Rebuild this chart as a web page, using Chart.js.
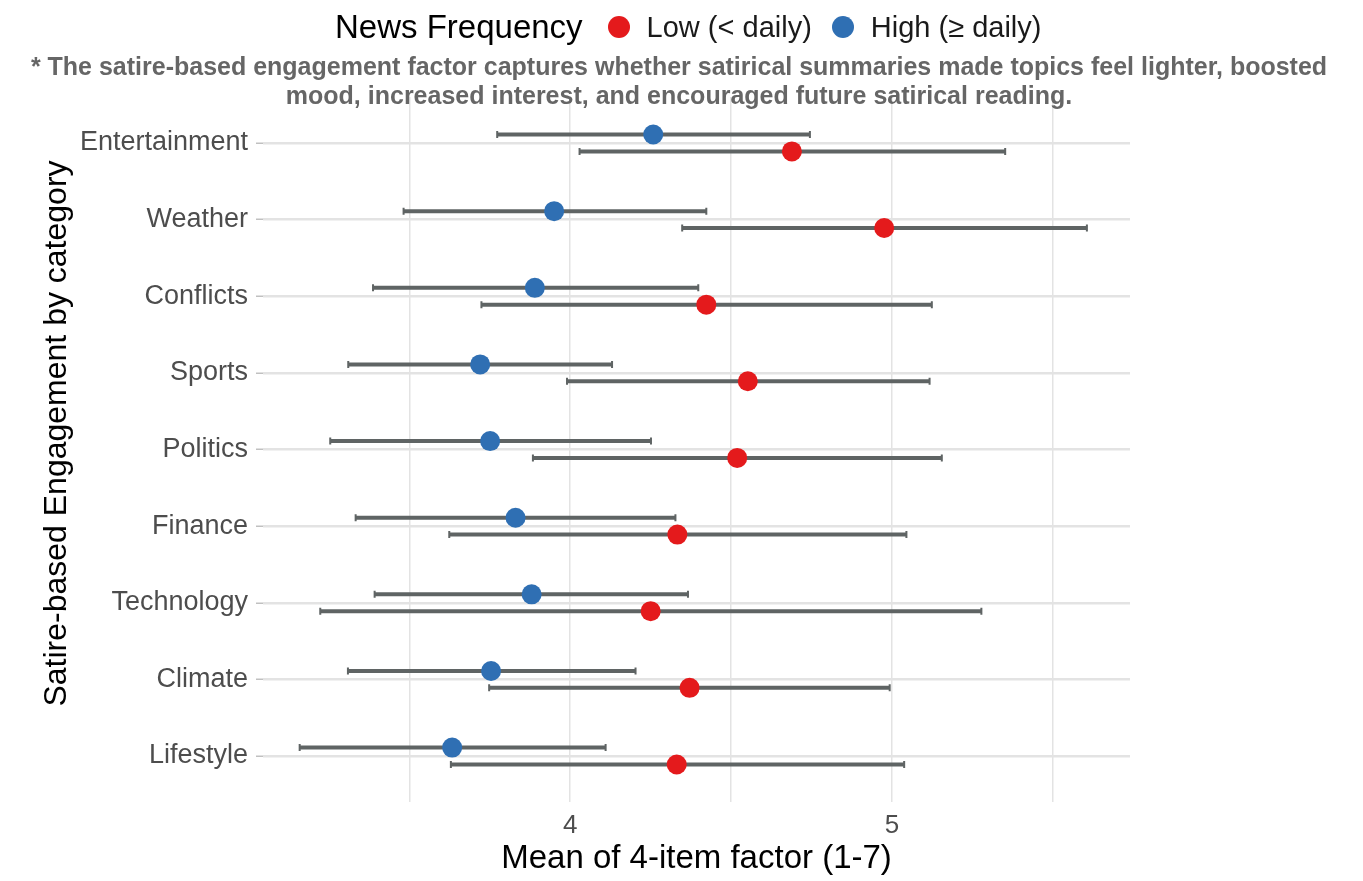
<!DOCTYPE html>
<html>
<head>
<meta charset="utf-8">
<script src="https://cdn.jsdelivr.net/npm/chart.js@4.4.1/dist/chart.umd.min.js"></script>
<style>
  body { margin: 0; background: #fff; font-family: "Liberation Sans", Arial, sans-serif; }
  #wrap { position: relative; width: 1363px; height: 881px; }
  #chart { position: absolute; left: 0; top: 0; }
  #legend { position: absolute; top: 7px; left: 335px; height: 40px; display: flex; align-items: center; white-space: nowrap; }
  #legend .ttl { font-size: 33px; color: #000; margin-right: 25px; }
  #legend .dot { width: 22px; height: 22px; border-radius: 50%; display: inline-block; margin-right: 17px; }
  #legend .lab { font-size: 29px; color: #1a1a1a; margin-right: 20px; }
  #note { position: absolute; top: 52px; left: 0; width: 1358px; text-align: center; font-weight: bold; font-size: 25px; line-height: 29px; color: #666; white-space: nowrap; }
</style>
</head>
<body>
<div id="wrap">
  <canvas id="chart" width="1363" height="881"></canvas>
  <div id="legend">
    <span class="ttl">News Frequency</span>
    <span class="dot" style="background:#e41a1c"></span><span class="lab">Low (&lt; daily)</span>
    <span class="dot" style="background:#2f6fb3"></span><span class="lab">High (≥ daily)</span>
  </div>
  <div id="note">* The satire-based engagement factor captures whether satirical summaries made topics feel lighter, boosted<br>mood, increased interest, and encouraged future satirical reading.</div>
</div>
<script>
// categories, top to bottom
const categories = ['Entertainment', 'Weather', 'Conflicts', 'Sports', 'Politics', 'Finance', 'Technology', 'Climate', 'Lifestyle'];

// High (>= daily) news frequency
const highMean = [4.258, 3.950, 3.890, 3.720, 3.751, 3.830, 3.880, 3.754, 3.633];
const highLow  = [3.773, 3.482, 3.387, 3.310, 3.254, 3.333, 3.392, 3.309, 3.159];
const highHigh = [4.745, 4.423, 4.398, 4.130, 4.251, 4.327, 4.366, 4.203, 4.110];

// Low (< daily) news frequency
const lowMean = [4.689, 4.976, 4.423, 4.552, 4.519, 4.333, 4.250, 4.371, 4.331];
const lowLow  = [4.029, 4.348, 3.724, 3.990, 3.884, 3.624, 3.223, 3.748, 3.629];
const lowHigh = [5.352, 5.606, 5.124, 5.117, 5.155, 5.045, 5.278, 4.993, 5.038];

const xTicks = [4, 5];
const yTitleText = 'Satire-based Engagement by category';
const dodge = 0.11;

function points(mean, lo, hi, shift) {
    return mean.map((m, i) => ({ x: m, y: i + 1 + shift, lo: lo[i], hi: hi[i] }));
}

const errorBars = {
    id: 'errorBars',
    beforeDatasetsDraw(chart) {
        const ctx = chart.ctx;
        const x = chart.scales.x, y = chart.scales.y;
        ctx.save();
        ctx.strokeStyle = '#5f6464';
        chart.data.datasets.forEach(ds => {
            ds.data.forEach(p => {
                const py = y.getPixelForValue(p.y);
                const x1 = x.getPixelForValue(p.lo);
                const x2 = x.getPixelForValue(p.hi);
                ctx.lineWidth = 4;
                ctx.beginPath();
                ctx.moveTo(x1, py);
                ctx.lineTo(x2, py);
                ctx.stroke();
                ctx.lineWidth = 2;
                ctx.beginPath();
                ctx.moveTo(x1, py - 3.5); ctx.lineTo(x1, py + 3.5);
                ctx.moveTo(x2, py - 3.5); ctx.lineTo(x2, py + 3.5);
                ctx.stroke();
            });
        });
        ctx.restore();
    }
};

// y title sits a bit above the panel centre, like the original
const yTitle = {
    id: 'yTitle',
    afterDraw(chart) {
        const { ctx, chartArea } = chart;
        ctx.save();
        ctx.translate(57, (chartArea.top + chartArea.bottom) / 2 - 16);
        ctx.rotate(-Math.PI / 2);
        ctx.font = '32px "Liberation Sans"';
        ctx.fillStyle = '#000';
        ctx.textAlign = 'center';
        ctx.textBaseline = 'middle';
        ctx.fillText(yTitleText, 0, 0);
        ctx.restore();
    }
};

const ctx = document.getElementById('chart').getContext('2d');
new Chart(ctx, {
    type: 'scatter',
    data: {
        datasets: [
            {
                label: 'Low (< daily)',
                data: points(lowMean, lowLow, lowHigh, dodge),
                backgroundColor: '#e41a1c',
                borderWidth: 0,
                pointRadius: 10
            },
            {
                label: 'High (≥ daily)',
                data: points(highMean, highLow, highHigh, -dodge),
                backgroundColor: '#2f6fb3',
                borderWidth: 0,
                pointRadius: 10
            }
        ]
    },
    options: {
        responsive: false,
        animation: false,
        layout: { padding: { top: 97, right: 233, left: 0, bottom: 0 } },
        plugins: {
            legend: { display: false },
            tooltip: { enabled: false }
        },
        scales: {
            x: {
                type: 'linear',
                min: 3.045,
                max: 5.74,
                afterFit(scale) { scale.height = 79; },
                afterBuildTicks(scale) {
                    scale.ticks = [3.5, 4, 4.5, 5, 5.5].map(v => ({ value: v }));
                },
                ticks: {
                    padding: 8,
                    color: '#4d4d4d',
                    font: { family: 'Liberation Sans', size: 26 },
                    callback: v => xTicks.includes(v) ? String(v) : ''
                },
                grid: { color: '#e3e3e3', lineWidth: 1.5, drawTicks: false },
                border: { display: false },
                title: {
                    display: true,
                    text: 'Mean of 4-item factor (1-7)',
                    color: '#000',
                    font: { family: 'Liberation Sans', size: 33 },
                    padding: { top: 0, bottom: 2 }
                }
            },
            y: {
                type: 'linear',
                reverse: true,
                min: 0.4,
                max: 9.6,
                afterFit(scale) { scale.width = 263; },
                afterBuildTicks(scale) {
                    scale.ticks = categories.map((c, i) => ({ value: i + 1 }));
                },
                ticks: {
                    padding: 8,
                    color: '#4d4d4d',
                    font: { family: 'Liberation Sans', size: 27 },
                    callback: v => categories[v - 1]
                },
                grid: { color: '#e3e3e3', lineWidth: 2.5, tickLength: 7, tickColor: '#c0c0c0', tickWidth: 1.5 },
                border: { display: false },
                title: { display: false }
            }
        }
    },
    plugins: [errorBars, yTitle]
});
</script>
</body>
</html>
